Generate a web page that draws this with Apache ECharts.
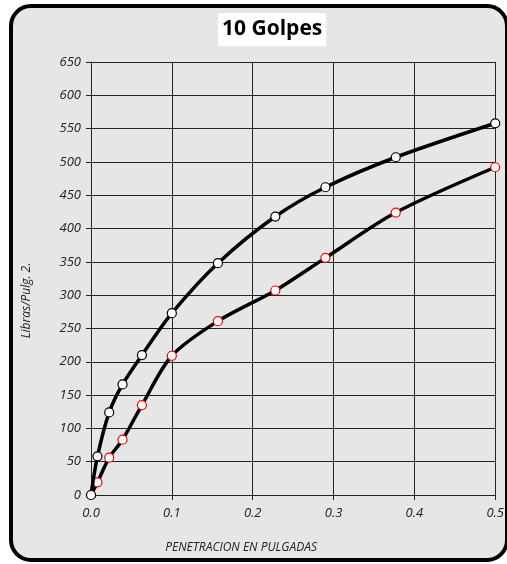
<!DOCTYPE html>
<html>
<head>
<meta charset="utf-8">
<script src="https://cdn.jsdelivr.net/npm/echarts@6/dist/echarts.min.js"></script>
<style>
  html, body { margin: 0; padding: 0; background: #fff; }
  #chart { width: 507px; height: 564px; }
</style>
</head>
<body>
<div id="chart"></div>
<script>
  // penetracion (pulgadas)
  const penetracion = [0, 0.008, 0.0225, 0.039, 0.063, 0.1, 0.157, 0.228, 0.29, 0.377, 0.5]
  // curva negra
  const cargaA = [0, 58, 124, 166, 210, 273, 348, 418, 462, 507, 558]
  // curva con marcadores rojos
  const cargaB = [0, 19, 56, 83, 135, 209, 261, 307, 356, 424, 492]
  const xTicks = [0, 0.1, 0.2, 0.3, 0.4, 0.5]
  const yMax = 650

  const pairs = (xs, ys) => xs.map((x, i) => [x, ys[i]])

  const font = "'Open Sans', 'Liberation Sans', sans-serif"
  const myChart = echarts.init(document.getElementById("chart"))

  const option = {
    backgroundColor: "#fff",
    animation: false,
    graphic: [
      {
        type: "rect",
        z: -10,
        shape: { x: 11, y: 6, width: 496, height: 554, r: 20 },
        style: { fill: "#e6e6e6", stroke: "#000", lineWidth: 4 },
      },
    ],
    title: {
      text: "10 Golpes",
      left: 218,
      top: 13,
      backgroundColor: "#fff",
      padding: [6, 4, 6, 4],
      textStyle: {
        fontFamily: font,
        fontWeight: "bold",
        fontSize: 21,
        color: "#000",
      },
    },
    grid: {
      left: 91,
      right: 9,
      top: 62,
      bottom: 69,
    },
    xAxis: {
      type: "value",
      min: 0,
      max: 0.5,
      interval: 0.1,
      name: "PENETRACION EN PULGADAS",
      nameLocation: "middle",
      nameGap: 47,
      nameTextStyle: {
        fontFamily: font,
        fontStyle: "italic",
        fontSize: 12,
        color: "#222",
        padding: [0, 104, 0, 0],
      },
      axisLine: { show: true, lineStyle: { color: "#222", width: 1 } },
      axisTick: { show: true, length: 5, lineStyle: { color: "#222" } },
      axisLabel: {
        fontFamily: font,
        fontStyle: "italic",
        fontSize: 13,
        color: "#222",
        margin: 12,
        formatter: (v) => (xTicks.includes(+v.toFixed(1)) ? v.toFixed(1) : ""),
      },
      splitLine: { show: true, lineStyle: { color: "#222", width: 1 } },
    },
    yAxis: {
      type: "value",
      min: 0,
      max: yMax,
      interval: 50,
      name: "Libras/Pulg. 2.",
      nameLocation: "middle",
      nameGap: 58,
      nameTextStyle: {
        fontFamily: font,
        fontStyle: "italic",
        fontSize: 12,
        color: "#222",
        padding: [0, 44, 0, 0],
      },
      axisLine: { show: true, lineStyle: { color: "#222", width: 1 } },
      axisTick: { show: true, length: 5, lineStyle: { color: "#222" } },
      axisLabel: {
        fontFamily: font,
        fontStyle: "italic",
        fontSize: 13,
        color: "#222",
        margin: 10,
      },
      splitLine: { show: true, lineStyle: { color: "#222", width: 1 } },
    },
    series: [
      {
        type: "line",
        data: pairs(penetracion, cargaA),
        smooth: 0.3,
        symbol: "circle",
        symbolSize: 9,
        lineStyle: { color: "#000", width: 3.5 },
        itemStyle: { color: "#fff", borderColor: "#000", borderWidth: 1.2 },
        z: 3,
      },
      {
        type: "line",
        data: pairs(penetracion, cargaB),
        smooth: 0.3,
        symbol: "circle",
        symbolSize: 9,
        lineStyle: { color: "#000", width: 3.5 },
        itemStyle: { color: "#fff", borderColor: "#ff0000", borderWidth: 1.2 },
        z: 2,
      },
    ],
  }
  myChart.setOption(option)
</script>
</body>
</html>
